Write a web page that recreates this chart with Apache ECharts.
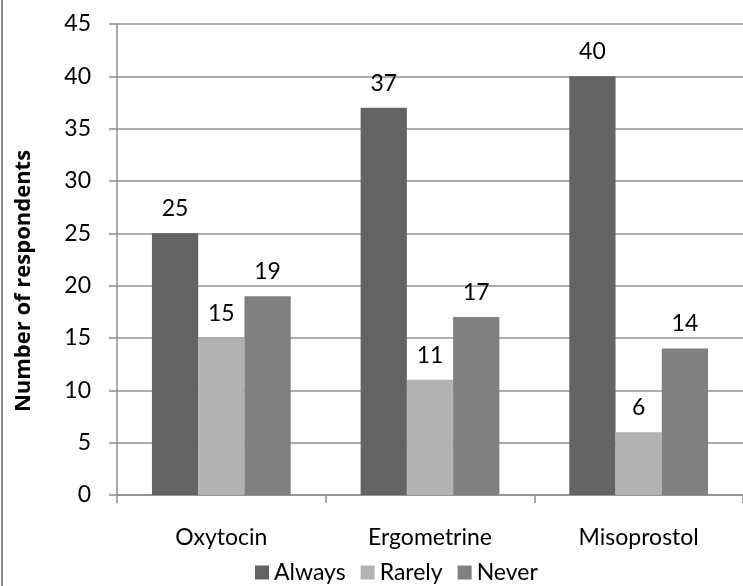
<!DOCTYPE html>
<html>
<head>
<meta charset="utf-8">
<script src="https://cdn.jsdelivr.net/npm/echarts@6/dist/echarts.min.js"></script>
<style>
html,body{margin:0;padding:0;background:#fff;}
#frame{position:absolute;left:1px;top:0;width:742px;height:586px;border-left:2px solid #8c8c8c;box-sizing:border-box;}
#chart{position:absolute;left:0;top:0;width:743px;height:586px;}
</style>
</head>
<body>
<div id="frame"></div>
<div id="chart"></div>
<script>
const categories = ['Oxytocin', 'Ergometrine', 'Misoprostol'];
const always = [25, 37, 40];
const rarely = [15, 11, 6];
const never = [19, 17, 14];
const yTicks = [0, 5, 10, 15, 20, 25, 30, 35, 40, 45];
const yTitle = 'Number of respondents';

const font = 'Lato, Carlito, "Open Sans", sans-serif';
const fs = 23;
const chart = echarts.init(document.getElementById('chart'), null, {renderer: 'canvas'});
const labelStyle = {show: true, position: 'top', distance: 13, color: '#000', fontSize: fs, fontFamily: font};
chart.setOption({
  animation: false,
  backgroundColor: 'transparent',
  grid: {left: 117, top: 24, right: -1, bottom: 91, containLabel: false},
  graphic: [{
    type: 'text', x: 24, y: 281, rotation: Math.PI / 2,
    style: {text: yTitle, font: 'bold 22px "Open Sans", sans-serif', fill: '#000', align: 'center', verticalAlign: 'middle'}
  }],
  legend: {
    top: 556, left: 250,
    itemWidth: 14, itemHeight: 14, itemGap: 15,
    icon: 'rect',
    textStyle: {fontSize: fs, fontFamily: font, color: '#000', padding: [0,0,0,0]},
    data: ['Always', 'Rarely', 'Never']
  },
  xAxis: {
    type: 'category', data: categories,
    axisLine: {lineStyle: {color: '#8c8c8c', width: 1.5}},
    axisTick: {show: true, length: 8, alignWithLabel: false, lineStyle: {color: '#8c8c8c', width: 1.5}},
    axisLabel: {fontSize: fs, fontFamily: font, color: '#000', margin: 31}
  },
  yAxis: {
    type: 'value', min: yTicks[0], max: yTicks[yTicks.length - 1], interval: 5,
    axisLine: {show: true, lineStyle: {color: '#8c8c8c', width: 1.5}},
    axisTick: {show: true, length: 8, lineStyle: {color: '#8c8c8c', width: 1.5}},
    axisLabel: {fontSize: fs, fontFamily: font, color: '#000', margin: 26},
    splitLine: {lineStyle: {color: '#929292', width: 1.5}}
  },
  series: [
    {name: 'Always', type: 'bar', data: always, itemStyle: {color: '#636363'}, barGap: '0%', barCategoryGap: '33.5%', label: labelStyle},
    {name: 'Rarely', type: 'bar', data: rarely, itemStyle: {color: '#b2b2b2'}, label: labelStyle},
    {name: 'Never', type: 'bar', data: never, itemStyle: {color: '#808080'}, label: labelStyle}
  ]
});
</script>
</body>
</html>
